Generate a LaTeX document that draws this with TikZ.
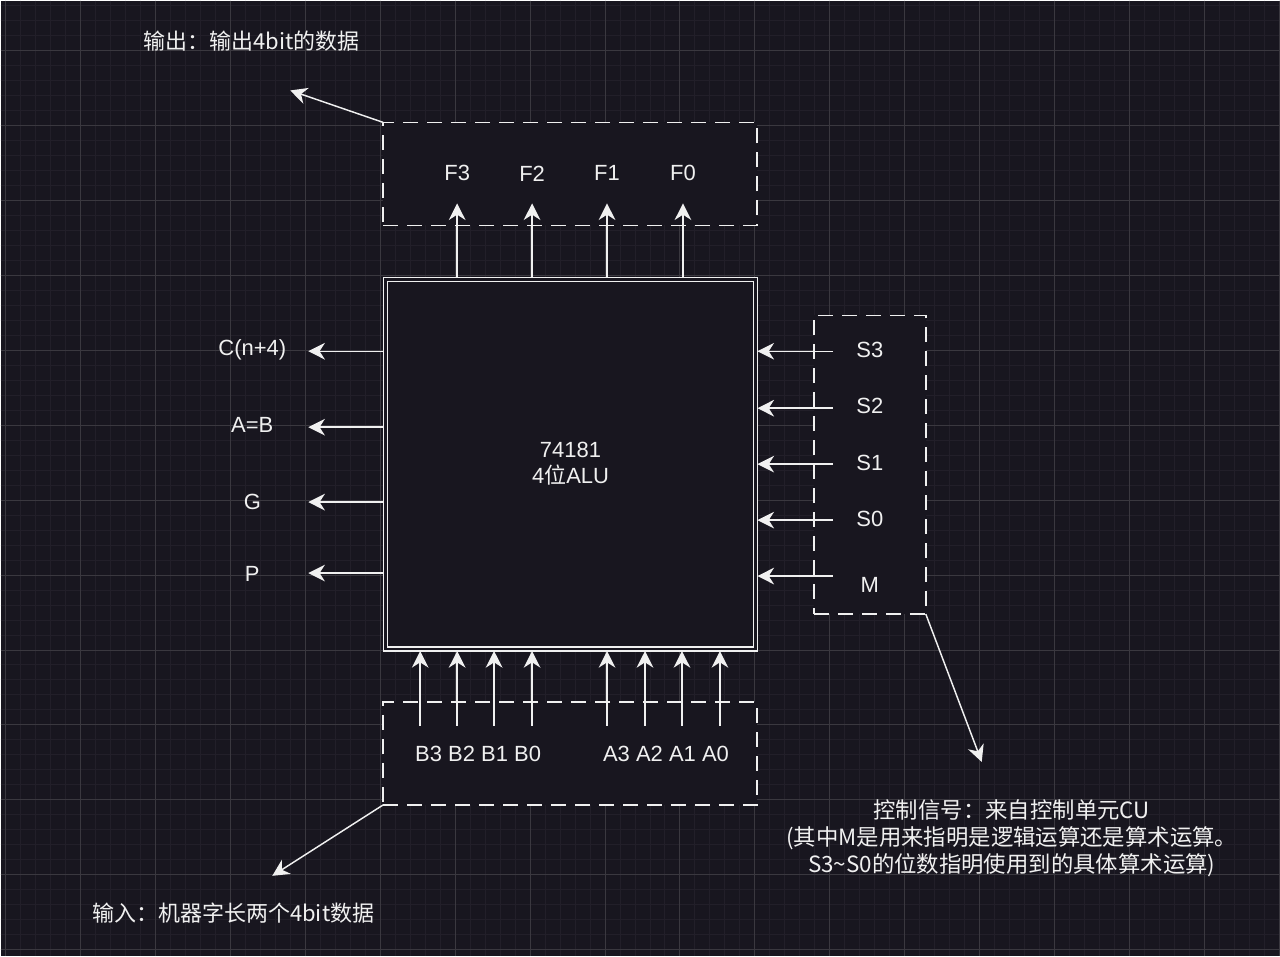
\documentclass[tikz,border=0pt]{standalone}
\usepackage{fontspec}
\setmainfont{Liberation Sans}
\newfontfamily\cjk{Noto Sans CJK SC}
\usetikzlibrary{arrows.meta,positioning}
\definecolor{bgcol}{HTML}{18161F}
\definecolor{minorgrid}{HTML}{221F29}
\definecolor{majorgrid}{HTML}{3A383F}
\definecolor{fg}{HTML}{F0F0F0}
\tikzset{
  lbl/.style={text=fg,font=\fontsize{16.5}{19.5}\selectfont},
  cntext/.style={text=fg,font=\cjk\fontsize{16.5}{20.25}\selectfont,align=center},
  dashbox/.style={draw=fg,fill=bgcol,line width=1.1pt,dash pattern=on 11.25pt off 6.75pt,outer sep=0pt},
  sig/.style={draw=fg,line width=1.1pt,-{Stealth[length=12.5pt,width=12.5pt,inset=4pt]}}
}
\begin{document}
\begin{tikzpicture}[x=0.75pt,y=-0.75pt]
% Background grid
\fill[bgcol] (0,0) rectangle (1280,956);
\foreach \g in {5,20,...,1280} \draw[minorgrid,line width=0.75pt] (\g,0) -- (\g,956);
\foreach \g in {5,20,...,956} \draw[minorgrid,line width=0.75pt] (0,\g) -- (1280,\g);
\foreach \g in {5,80,...,1280} \draw[majorgrid,line width=0.75pt] (\g,0) -- (\g,956);
\foreach \g in {50,125,...,956} \draw[majorgrid,line width=0.75pt] (0,\g) -- (1280,\g);
\useasboundingbox (0,0) rectangle (1280,956);

% Dashed groups
\node[dashbox,minimum width=280.5pt,minimum height=77.25pt] (outbox) at (570,173.5) {};
\node[dashbox,minimum width=280.5pt,minimum height=77.25pt] (inbox) at (570,753.5) {};
\node[dashbox,minimum width=84pt,minimum height=224.25pt] (ctlbox) at (870,464.5) {};

% ALU block
\node[draw=fg,line width=1.1pt,double=bgcol,double distance=1.9pt,fill=bgcol,
  minimum width=277.5pt,minimum height=277.5pt,inner sep=0pt,outer sep=1.5pt,
  lbl,align=center] (alu) at (570.5,464) {74181\\4{\cjk 位}ALU};

% Outputs F3..F0
\foreach \n/\x in {3/457,2/532,1/607,0/683} {
  \node[lbl] (f\n) at (\x,173) {F\n};
  \coordinate (ft\n) at (\x,203);
  \draw[sig] (ft\n |- alu.north) -- (ft\n);
}

% Status outputs
\foreach \t/\y/\ly [count=\i] in {C(n+4)/351/350,A=B/427/425,G/502/502,P/573/574} {
  \node[lbl] (st\i) at (252,\ly) {\t};
  \coordinate (lt\i) at (308,\y);
  \draw[sig] (alu.west |- lt\i) -- (lt\i);
}

% Control inputs
\foreach \t/\y/\ly [count=\i] in {S3/351/350,S2/408/406,S1/464/463,S0/520/519,M/576/585} {
  \node[lbl] (s\i) at (870,\ly) {\t};
  \coordinate (rt\i) at (833,\y);
  \draw[sig] (rt\i) -- (alu.east |- rt\i);
}

% Data inputs
\foreach \x [count=\i] in {420,457,494,532,607,645,682,720} {
  \coordinate (bt\i) at (\x,726);
  \draw[sig] (bt\i) -- (bt\i |- alu.south);
}
\node[lbl] (bin) at (478,754) {B3 B2 B1 B0};
\node[lbl] (ain) at (666,754) {A3 A2 A1 A0};

% Notes
\node[cntext] (outnote) at (251,41) {输出：输出4bit的数据};
\coordinate (outtip) at (290,90);
\draw[sig] (outbox.north west) -- (outtip);

\node[cntext] (innote) at (233,913) {输入：机器字长两个4bit数据};
\coordinate (intip) at (272,876);
\draw[sig] (inbox.south west) -- (intip);

\node[cntext,font=\cjk\fontsize{16.8}{20.25}\selectfont] (ctlnote) at (1012,838) {控制信号：来自控制单元CU\\(其中M是用来指明是逻辑运算还是算术运算。\\S3\textasciitilde S0的位数指明使用到的具体算术运算)};
\coordinate (ctltip) at (982,762);
\draw[sig] (ctlbox.south east) -- (ctltip);
\end{tikzpicture}
\end{document}
